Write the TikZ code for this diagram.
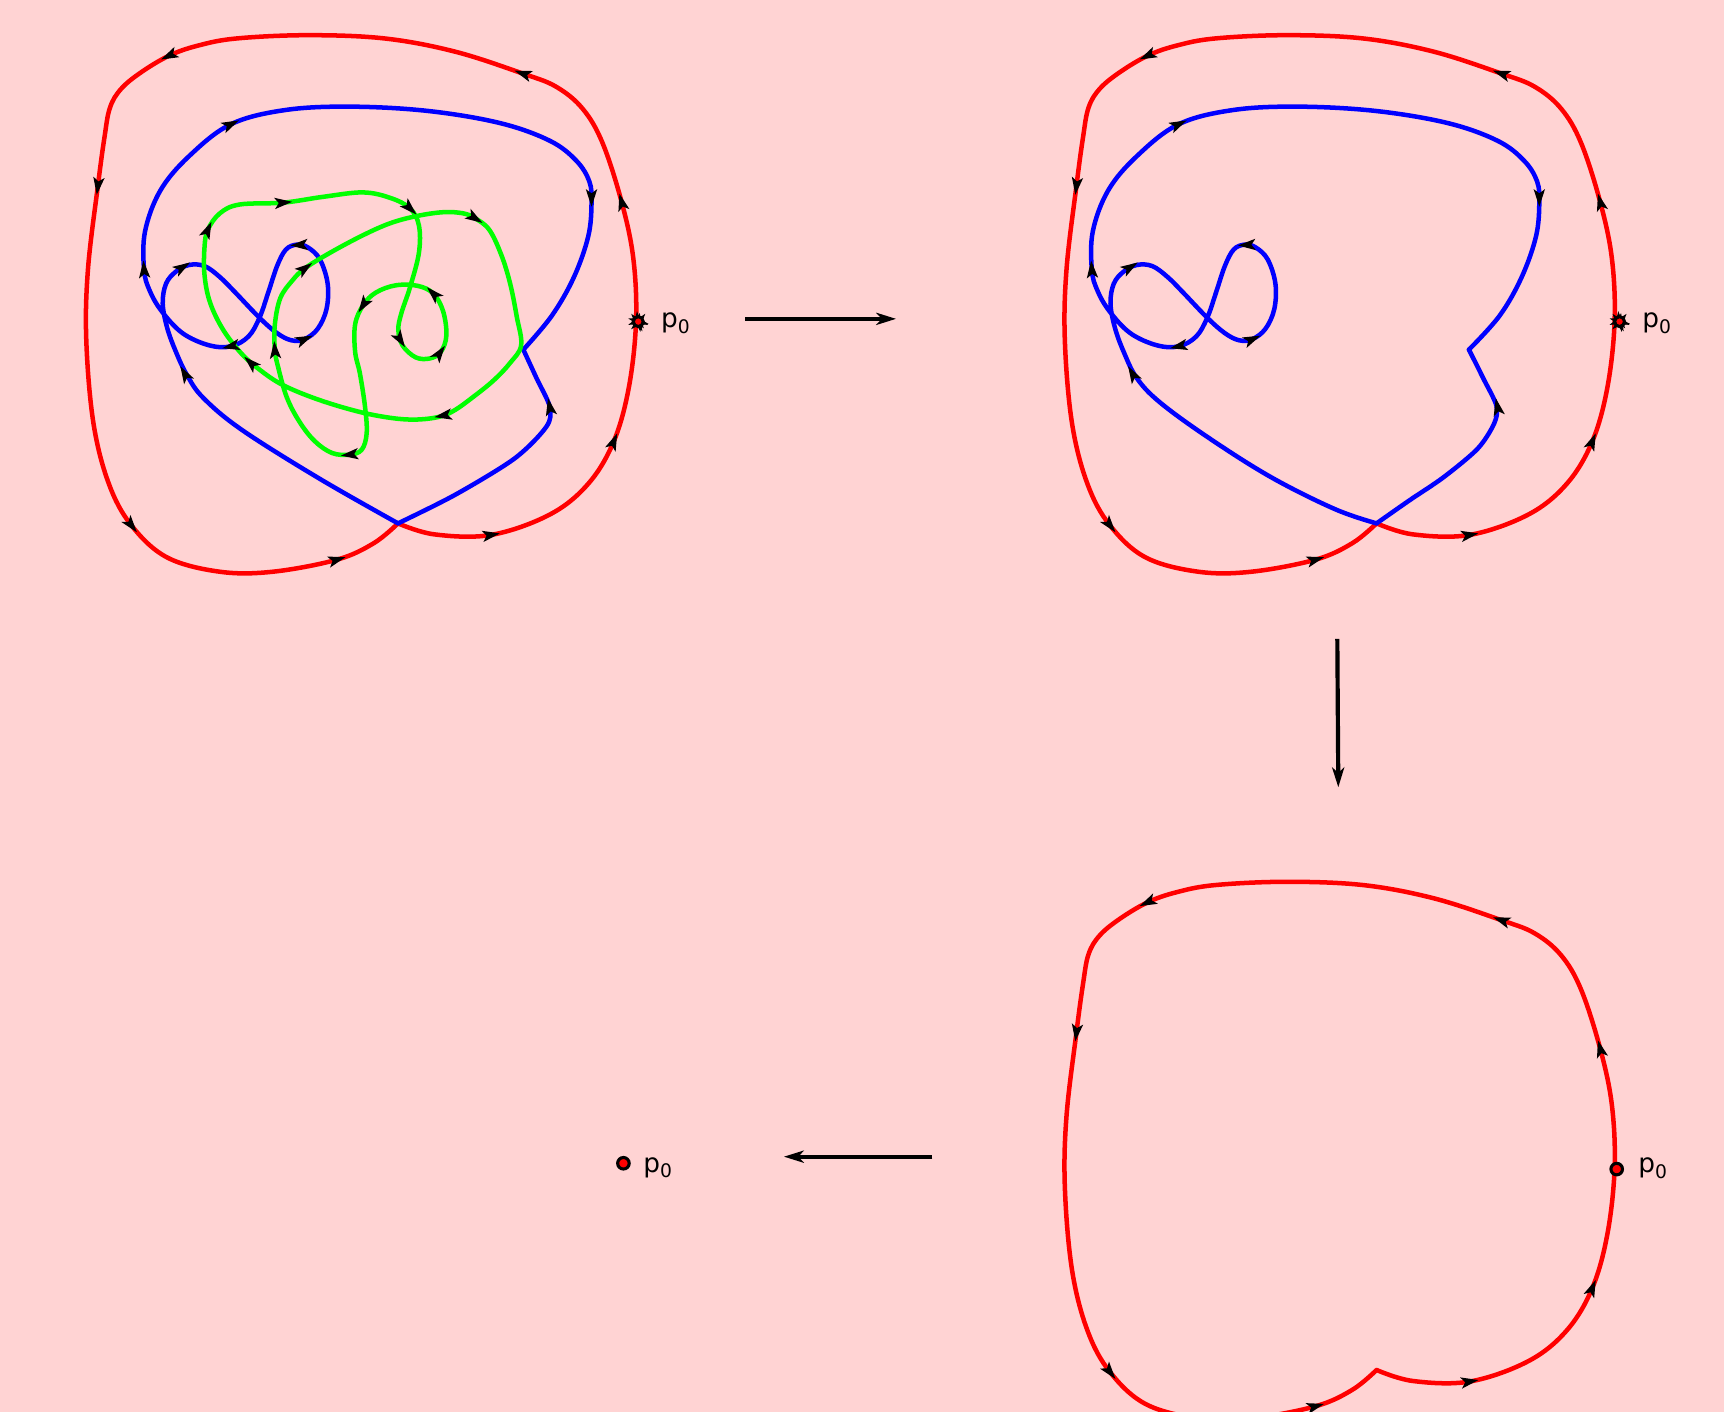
\documentclass[tikz,border=0pt]{standalone}
\usepackage{fontspec}
\setmainfont{DejaVu Sans}
\usetikzlibrary{calc,arrows.meta}
\definecolor{bgpink}{RGB}{255,211,211}
\definecolor{cred}{RGB}{255,0,0}
\definecolor{cblue}{RGB}{0,0,255}
\definecolor{cgreen}{RGB}{0,255,0}
% arrowhead at #2, oriented along the chord #1 -> #3
\newcommand\arrowat[3]{\path let \p1=($(#3)-(#1)$), \n1={atan2(\y1,\x1)} in (#2) pic[rotate=\n1] {ahd};}
\newcommand\plabeltext{p\raisebox{-5pt}{\fontsize{17}{17}\selectfont 0}}
\begin{document}
\begin{tikzpicture}[x=1pt,y=-1pt,
  ahd/.pic={\fill[black] (8,0) -- (-8,5.2) -- (-4.2,0) -- (-8,-5.2) -- cycle;},
  curve/.style={line width=4.1pt, line cap=round, line join=round},
  redcurve/.style={curve, draw=cred},
  bluecurve/.style={curve, draw=cblue},
  greencurve/.style={curve, draw=cgreen},
  linkarrow/.style={line width=3.8pt, draw=black, -{Stealth[length=18pt,width=11pt,inset=5pt]}},
  pdot/.style={circle, draw=black, fill=cred, line width=2.8pt, inner sep=0pt, minimum size=10.5pt},
  plabel/.style={anchor=base west, inner sep=0pt, font=\fontsize{24}{26}\selectfont},
]
\useasboundingbox (0,0) rectangle (1568,1284);
\fill[bgpink] (0,0) rectangle (1568,1284);
\clip (0,0) rectangle (1568,1284);

% ---------------- red loops (three panels) ----------------
\foreach \sx/\sy in {0/0, 890/0, 890/770}{
\begin{scope}[shift={(\sx,\sy)}]
\draw[redcurve] plot[smooth, tension=0.6] coordinates {
 (362,476) (395,486) (446.7,486.5) (500,468) (535,440) (558.2,401.5) (572,352)
 (578.5,292) (576,235) (565.4,183.8) (548,130) (530,99) (506,79) (475.5,66.9)
 (414,47) (350,35) (280,32) (215,35) (180,41.5) (153.7,50.7) (128,66) (110,81)
 (100,98) (95,125) (89,169.2) (80,245) (78.5,310) (85,385) (99,440) (119.5,477.8)
 (152,507) (200,520) (248,520) (306.5,509) (340,494) (362,476)};
\arrowat{395,486}{446.7,486.5}{500,468}
\arrowat{535,440}{558.2,401.5}{572,352}
\arrowat{576,235}{565.4,183.8}{548,130}
\arrowat{506,79}{475.5,66.9}{414,47}
\arrowat{180,41.5}{153.7,50.7}{128,66}
\arrowat{95,125}{89,169.2}{80,245}
\arrowat{99,440}{119.5,477.8}{152,507}
\arrowat{248,520}{306.5,509}{340,494}
\end{scope}
}

% ---------------- blue, top-left ----------------
\draw[bluecurve] plot[smooth, tension=0.6] coordinates {
 (362,476) (290,435) (220,391) (185,362) (170,341) (160,320) (152,298)
 (148,276) (151,258) (160,247) (172,241) (186,242) (200,252) (214,266) (236,289)
 (252,303) (265,309.5) (277,308.5) (289,299) (297,281) (298,258) (291,236)
 (280,225) (270,222.5) (260,227) (252,242) (244,266) (236,289) (226,306)
 (210,315) (190,314) (166,303) (147,283) (136,264) (131,245) (132,210)
 (146,173) (172,142) (210,113) (260,100) (320,97) (390,101) (455,112)
 (500,128) (524,146) (536,165) (538,185) (535,215) (522,252) (502,287) (476,318)};
\draw[bluecurve] plot[smooth, tension=0.5] coordinates {
 (476,318) (488,344) (500,370) (497,388) (468,417) (414,450) (362,476)};

% ---------------- blue, top-right ----------------
\begin{scope}[shift={(862,0)}]
\draw[bluecurve] plot[smooth, tension=0.6] coordinates {
 (390,476) (352,463) (294,434) (237,398) (193,366) (172,344) (160,320) (152,298)
 (148,276) (151,258) (160,247) (172,241) (186,242) (200,252) (214,266) (236,289)
 (252,303) (265,309.5) (277,308.5) (289,299) (297,281) (298,258) (291,236)
 (280,225) (270,222.5) (260,227) (252,242) (244,266) (236,289) (226,306)
 (210,315) (190,314) (166,303) (147,283) (136,264) (131,245) (132,210)
 (146,173) (172,142) (210,113) (260,100) (320,97) (390,101) (455,112)
 (500,128) (524,146) (536,165) (538,185) (535,215) (522,252) (502,287) (474,318)};
\draw[bluecurve] plot[smooth, tension=0.5] coordinates {
 (474,318) (487,344) (499,369) (497,385) (482,408) (451,434) (420,455) (390,476)};
\end{scope}

% ---------------- green, top-left ----------------
\draw[greencurve] plot[smooth cycle, tension=0.6] coordinates {
 (189,209) (200,194) (218,186) (257.7,184.3) (294,179) (330,175) (355,180)
 (372.9,189.5) (381,205) (381,230) (373,261) (365,285) (362.3,300)
 (366,314) (378,325) (391,326) (401,320) (406,305) (403,283) (394.1,267)
 (380,260) (360,259.5) (342,266) (330.4,277.4) (323,295) (323,320)
 (327.4,340) (332,370) (333.5,394) (329,409) (318,413.5) (302,412) (286,401)
 (272,383) (260.7,361) (253,334) (250,318.3) (250,295) (255,271) (266,255)
 (277.4,244) (300,230) (330,214) (355,203) (379,196.5) (403,193) (421,194)
 (432,198.5) (445,209) (456,232) (464,258) (470,288) (474,314) (464,330) (450,345)
 (433,359) (412,374) (395,380) (370,381.5) (340,377.5) (310,370) (280,360)
 (255,349) (236.5,336.5) (220,322) (203,300) (191,275) (186,250) (186,225)};

% ---------------- blue arrowheads (both top panels) ----------------
\foreach \sx in {0,862}{
\begin{scope}[shift={(\sx,0)}]
\arrowat{180,355}{168,340}{160,320}
\arrowat{151,258}{166,243}{180,240}
\arrowat{265,309.5}{277,308.5}{289,299}
\arrowat{280,225}{272,222.8}{262,226}
\arrowat{226,306}{210,315}{190,314}
\arrowat{136,264}{131,245}{132,210}
\arrowat{172,142}{210,113}{260,100}
\arrowat{536,165}{538,180}{536,205}
\arrowat{497,388}{500,370}{488,344}
\end{scope}
}

% ---------------- green arrowheads ----------------
\arrowat{186,225}{189,209}{200,194}
\arrowat{218,186}{257.7,184.3}{294,179}
\arrowat{355,180}{372.9,189.5}{381,205}
\arrowat{362.3,300}{364,309}{378,325}
\arrowat{391,326}{400,321}{406,305}
\arrowat{403,283}{394.1,267}{380,260}
\arrowat{342,266}{330.4,277.4}{323,295}
\arrowat{329,409}{318,413.5}{302,412}
\arrowat{253,334}{250,318.3}{250,295}
\arrowat{266,255}{277.4,244}{300,230}
\arrowat{421,194}{432,198.5}{445,209}
\arrowat{412,374}{403,378}{370,381.5}
\arrowat{255,349}{228,330}{203,300}

% ---------------- base points p0 ----------------
\foreach \cx/\cy in {580.5/292.5, 1473/292.5}{
  \begin{scope}[shift={(\cx,\cy)}, scale=0.85]
    \pic[rotate=135] at (0,0) {ahd};
    \pic[rotate=195] at (0,0) {ahd};
    \pic[rotate=-15] at (0,0) {ahd};
    \pic[rotate=-50] at (0,0) {ahd};
    \pic[rotate=80] at (0,0) {ahd};
  \end{scope}
}
\node[pdot, minimum size=9pt] (pA) at (580.5,292.5) {};
\node[pdot, minimum size=9pt] (pB) at (1473,292.5) {};
\node[pdot] (pC) at (1470.4,1063.3) {};
\node[pdot] (pD) at (567,1058) {};

\node[plabel] (lA) at (601,298) {\plabeltext};
\node[plabel] (lB) at (1493.5,298) {\plabeltext};
\node[plabel] (lC) at (1490,1066.5) {\plabeltext};
\node[plabel] (lD) at (585,1066) {\plabeltext};

% ---------------- arrows between panels ----------------
\coordinate (h1s) at (678,290);
\coordinate (h1e) at (815,290);
\coordinate (v1s) at (1216.3,581);
\coordinate (v1e) at (1217.2,716);
\coordinate (h2s) at (848,1052);
\coordinate (h2e) at (713,1052);
\draw[linkarrow] (h1s) -- (h1e);
\draw[linkarrow] (v1s) -- (v1e);
\draw[linkarrow] (h2s) -- (h2e);
\end{tikzpicture}
\end{document}
